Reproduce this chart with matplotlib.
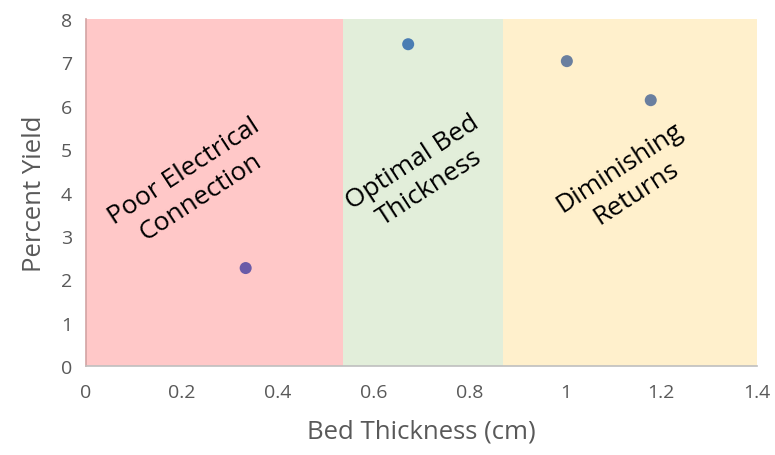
import matplotlib.pyplot as plt

plt.rcParams['font.family'] = ['Open Sans', 'DejaVu Sans']

# measured yield vs bed thickness
thickness = [0.333, 0.672, 1.003, 1.178]
yield_pct = [2.26, 7.42, 7.03, 6.13]
point_colors = ['#6A5BA8', '#4A7DB3', '#6A7F9F', '#6A7F9F']

# shaded regions: (start, end, colour, label)
region_edges = [0.0, 0.535, 0.869, 1.4]
region_colors = ['#FFC8C8', '#E2EEDA', '#FFF0CC']
region_labels = ['Poor Electrical\nConnection', 'Optimal Bed\nThickness', 'Diminishing\nReturns']
label_pos = [(0.221, 4.2), (0.698, 4.42), (1.13, 4.3)]

fig = plt.figure(figsize=(7.75, 4.56), dpi=100)
ax = fig.add_axes([0.111, 0.195, 0.866, 0.761])

for i in range(3):
    ax.axvspan(region_edges[i], region_edges[i + 1], color=region_colors[i], lw=0, zorder=0)
    ax.text(label_pos[i][0], label_pos[i][1], region_labels[i], rotation=33,
            ha='center', va='center', fontsize=19, color='black',
            rotation_mode='anchor', linespacing=1.3)

ax.scatter(thickness, yield_pct, s=75, c=point_colors, zorder=3, edgecolors='none')

ax.set_xlim(0, 1.4)
ax.set_ylim(0, 8)
ax.set_xticks([0, 0.2, 0.4, 0.6, 0.8, 1, 1.2, 1.4])
ax.set_xticklabels(['0', '0.2', '0.4', '0.6', '0.8', '1', '1.2', '1.4'])
ax.set_yticks(range(0, 9))
ax.tick_params(length=0, labelsize=14, labelcolor='#595959', pad=12)
ax.tick_params(axis='y', pad=10)

for side in ['top', 'right']:
    ax.spines[side].set_visible(False)
ax.spines['left'].set_color('#D3A3A3')
ax.spines['bottom'].set_color('#BFBFBF')
ax.spines['left'].set_linewidth(1.2)
ax.spines['bottom'].set_linewidth(1.2)

ax.set_xlabel('Bed Thickness (cm)', fontsize=18.5, color='#595959', labelpad=13)
ax.set_ylabel('Percent Yield', fontsize=18.5, color='#595959', labelpad=10)

fig.savefig('out.png', dpi=100)
